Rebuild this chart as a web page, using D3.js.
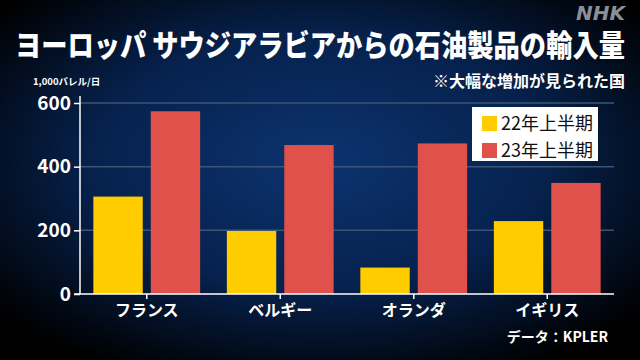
<!DOCTYPE html>
<html><head><meta charset="utf-8">
<script src="https://cdn.jsdelivr.net/npm/d3@7"></script>
<style>html,body{margin:0;padding:0;background:#000;}svg{display:block;}</style>
</head><body>
<svg id="c" width="640" height="360"></svg>
<script>
const categories = ["フランス", "ベルギー", "オランダ", "イギリス"];
const seriesNames = ["22年上半期", "23年上半期"];
const values22 = [306, 198, 83, 229];
const values23 = [574, 468, 473, 349];
const yTicks = [0, 200, 400, 600];
const colors = ["#ffcc00", "#e0514b"];

const font = "'Noto Sans CJK JP', 'Noto Sans', sans-serif";
const svg = d3.select("#c");
const defs = svg.append("defs");
const rg = defs.append("radialGradient").attr("id","bg").attr("cx","50%").attr("cy","45%").attr("r","65%");
rg.append("stop").attr("offset","0%").attr("stop-color","#0c3370");
rg.append("stop").attr("offset","55%").attr("stop-color","#06214c");
rg.append("stop").attr("offset","100%").attr("stop-color","#000000");
svg.append("rect").attr("width",640).attr("height",360).attr("fill","url(#bg)");

const x0 = d3.scaleBand().domain(categories).range([80, 614]).paddingInner(0.2).paddingOuter(0.1);
const x1 = d3.scaleBand().domain(seriesNames).range([0, x0.bandwidth()]).paddingInner(0.14);
const y = d3.scaleLinear().domain([0, 600]).range([294, 103]);

// gridlines
svg.append("g").selectAll("line").data(yTicks.filter(d=>d>0)).join("line")
  .attr("x1",80).attr("x2",614).attr("y1",d=>y(d)).attr("y2",d=>y(d))
  .attr("stroke","#3d5575").attr("stroke-width",1.5);

// bars
const data = categories.map((c,i)=>({c, vals:[values22[i], values23[i]]}));
const g = svg.append("g").selectAll("g").data(data).join("g")
  .attr("transform",d=>`translate(${x0(d.c)},0)`);
g.selectAll("rect").data(d=>d.vals.map((v,j)=>({v,s:seriesNames[j],j}))).join("rect")
  .attr("x",d=>x1(d.s)).attr("width",x1.bandwidth())
  .attr("y",d=>y(d.v)).attr("height",d=>y(0)-y(d.v))
  .attr("fill",d=>colors[d.j]);

// y axis
const ya = svg.append("g").attr("transform","translate(80,0)")
  .call(d3.axisLeft(y).tickValues(yTicks).tickSize(6).tickPadding(3));
ya.select(".domain").attr("stroke","#fff").attr("stroke-width",1.5).attr("d","M0,96V294");
ya.selectAll(".tick line").attr("stroke","#fff").attr("stroke-width",1.5);
ya.selectAll(".tick text").attr("fill","#fff").attr("font-family",font).attr("font-weight","bold").attr("font-size",19);

// x axis
const xa = svg.append("g").attr("transform","translate(0,294)")
  .call(d3.axisBottom(x0).tickSize(5).tickSizeOuter(0).tickPadding(6));
xa.select(".domain").attr("stroke","#fff").attr("stroke-width",1.5).attr("d","M74,0H614");
xa.selectAll(".tick line").attr("stroke","#fff").attr("stroke-width",1.5);
xa.selectAll(".tick text").attr("fill","#fff").attr("font-family",font).attr("font-weight","bold").attr("font-size",16);

// title (horizontally condensed to fit like the reference)
const tg = svg.append("g");
const title = tg.append("text").attr("x",0).attr("y",0)
  .attr("fill","#fff").attr("font-family",font).attr("font-weight","900").attr("font-size",30)
  .text("ヨーロッパ サウジアラビアからの石油製品の輸入量");
const tw = title.node().getComputedTextLength();
const sx = 610 / tw;
tg.attr("transform",`translate(15,56) scale(${sx},1)`);

svg.append("text").attr("x",625).attr("y",20).attr("text-anchor","end")
  .attr("fill","#8a8f99").attr("font-family","'DejaVu Sans', sans-serif").attr("font-weight","bold")
  .attr("font-style","italic").attr("font-size",20).text("NHK");
svg.append("text").attr("x",625).attr("y",87).attr("text-anchor","end")
  .attr("fill","#fff").attr("font-family",font).attr("font-weight","bold").attr("font-size",16)
  .text("※大幅な増加が見られた国");
svg.append("text").attr("x",33).attr("y",85)
  .attr("fill","#fff").attr("font-family",font).attr("font-weight","bold").attr("font-size",9.5)
  .text("1,000バレル/日");
svg.append("text").attr("x",608).attr("y",342).attr("text-anchor","end")
  .attr("fill","#fff").attr("font-family",font).attr("font-weight","bold").attr("font-size",14)
  .text("データ：KPLER");

// legend
const lg = svg.append("g");
lg.append("rect").attr("x",472).attr("y",107).attr("width",126).attr("height",54).attr("fill","#fff");
seriesNames.forEach((s,i)=>{
  lg.append("rect").attr("x",482).attr("y",116+i*27).attr("width",15).attr("height",15).attr("fill",colors[i]);
  lg.append("text").attr("x",501).attr("y",130+i*27).attr("fill","#111")
    .attr("font-family",font).attr("font-size",18).text(s);
});
</script>
</body></html>
